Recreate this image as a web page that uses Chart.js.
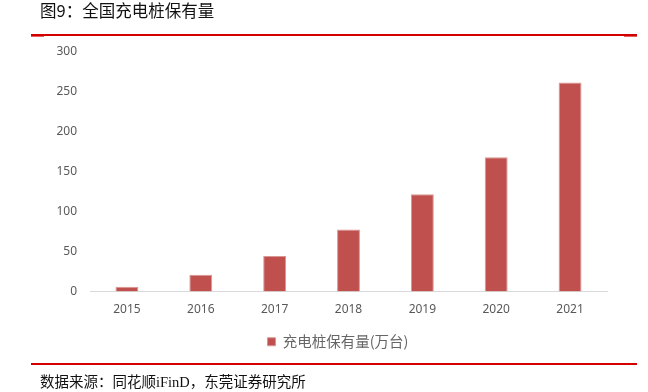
<!DOCTYPE html>
<html>
<head>
<meta charset="utf-8">
<script src="https://cdn.jsdelivr.net/npm/chart.js@4"></script>
<style>
    body { margin: 0; background: #fff; }
    .wrap { position: relative; width: 648px; height: 392px; overflow: hidden; }
    .wrap canvas { position: absolute; left: 0; top: 0; }
    .title { position: absolute; left: 40px; top: -2px; font: 16.5px "Noto Sans CJK SC", sans-serif; color: #111; }
    .rule { position: absolute; left: 31px; width: 606px; height: 2px; background: #d40000; }
    .rule-end { position: absolute; width: 13px; height: 1px; background: #e06060; }
    .source { position: absolute; left: 40px; top: 370px; font: 14.5px "Liberation Serif", "Noto Sans CJK SC", serif; color: #111; }
</style>
</head>
<body>
<div class="wrap">
    <canvas id="chart" width="648" height="392"></canvas>
    <div class="title">图9：全国充电桩保有量</div>
    <div class="rule" style="top:34px"></div>
    <div class="rule-end" style="top:36px; left:31px"></div>
    <div class="rule-end" style="top:36px; left:624px"></div>
    <div class="rule" style="top:363px"></div>
    <div class="source">数据来源：同花顺iFinD，东莞证券研究所</div>
</div>
<script>
const years = ['2015', '2016', '2017', '2018', '2019', '2020', '2021'];
const pileStock = [5.8, 21.0, 44.6, 77.7, 121.9, 168.1, 261.7];
const yTicks = [0, 50, 100, 150, 200, 250, 300];
const seriesName = '充电桩保有量(万台)';

const tickColor = '#595959';

// nudge the legend so it sits where the original has it
const legendShift = {
    id: 'legendShift',
    afterLayout(chart) {
        const lg = chart.legend;
        if (!lg) return;
        const dx = 338 - (lg.left + lg.right) / 2;
        lg.left += dx;
        lg.right += dx;
    }
};

new Chart(document.getElementById('chart'), {
    type: 'bar',
    data: {
        labels: years,
        datasets: [{
            label: seriesName,
            data: pileStock,
            backgroundColor: '#c0504d',
            borderColor: '#d99694',
            borderWidth: 1,
            barPercentage: 0.31,
            categoryPercentage: 1,
        }]
    },
    plugins: [legendShift],
    options: {
        responsive: false,
        animation: false,
        layout: { padding: { left: 0, right: 41, top: 52, bottom: 33 } },
        plugins: {
            tooltip: { enabled: false },
            legend: {
                position: 'bottom',
                labels: {
                    boxWidth: 8,
                    boxHeight: 8,
                    padding: 10,
                    color: '#666666',
                    font: { family: '"Noto Sans CJK SC", sans-serif', size: 14.5 },
                }
            }
        },
        scales: {
            x: {
                grid: { display: false, drawTicks: false },
                border: { color: '#d9d9d9', width: 1 },
                ticks: {
                    color: tickColor,
                    padding: 11,
                    font: { family: '"Noto Sans", sans-serif', size: 12 },
                },
                afterFit: (scale) => { scale.height = 33; }
            },
            y: {
                min: 0,
                max: 300,
                afterBuildTicks: (scale) => { scale.ticks = yTicks.map(v => ({ value: v })); },
                grid: { display: false, drawTicks: false },
                border: { display: false },
                ticks: {
                    color: tickColor,
                    padding: 13,
                    font: { family: '"Noto Sans", sans-serif', size: 12 },
                },
                afterFit: (scale) => { scale.width = 90; }
            }
        }
    }
});
</script>
</body>
</html>
